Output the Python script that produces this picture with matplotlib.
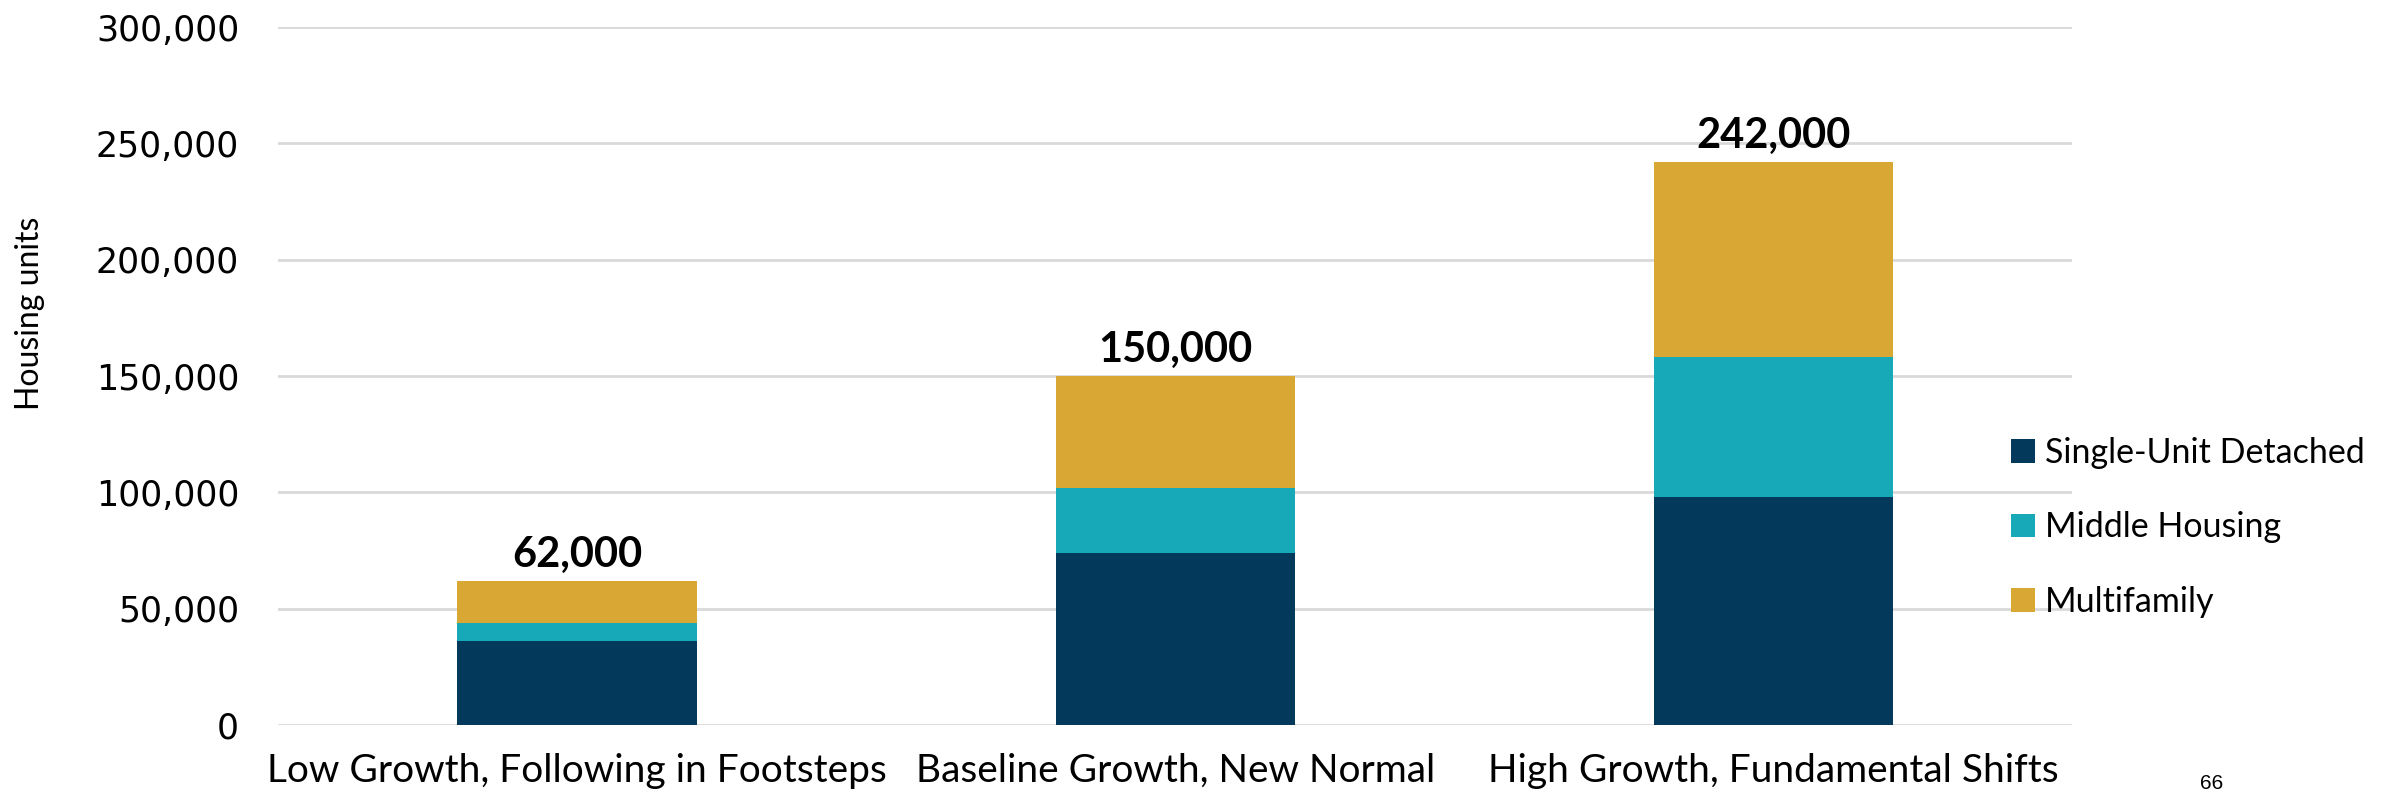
import matplotlib
matplotlib.use("Agg")
import matplotlib.pyplot as plt
from matplotlib.ticker import FuncFormatter

categories = ["Low Growth, Following in Footsteps", "Baseline Growth, New Normal", "High Growth, Fundamental Shifts"]
single_unit = [36000, 74000, 98000]
middle_housing = [8000, 28000, 60000]
multifamily = [18000, 48000, 84000]
totals = [62000, 150000, 242000]
series_names = ["Single-Unit Detached", "Middle Housing", "Multifamily"]
colors = ["#033A5C", "#18A9B8", "#D9A834"]

fig = plt.figure(figsize=(23.82, 7.98), dpi=100)
ax = fig.add_axes([0.1167, 0.0915, 0.7533, 0.8745])

x = list(range(len(categories)))
w = 0.40
b1 = ax.bar(x, single_unit, w, color=colors[0], label=series_names[0], zorder=3)
bottom2 = single_unit
b2 = ax.bar(x, middle_housing, w, bottom=bottom2, color=colors[1], label=series_names[1], zorder=3)
bottom3 = [a + b for a, b in zip(single_unit, middle_housing)]
b3 = ax.bar(x, multifamily, w, bottom=bottom3, color=colors[2], label=series_names[2], zorder=3)

for xi, t in zip(x, totals):
    ax.annotate(f"{t:,}", (xi, t), xytext=(0, 5), textcoords="offset points",
                ha="center", va="bottom", fontsize=30, fontweight="bold",
                family=["Lato", "DejaVu Sans"], color="black")

ax.set_xlim(-0.5, 2.5)
ax.set_ylim(0, 300000)
ax.set_yticks(range(0, 300001, 50000))
ax.yaxis.set_major_formatter(FuncFormatter(lambda v, p: f"{int(v):,}"))
ax.set_xticks(x)
ax.set_xticklabels(categories, family=["Lato", "DejaVu Sans"], fontsize=28)
for lbl in ax.get_yticklabels():
    lbl.set_fontsize(25)
    lbl.set_family("DejaVu Sans")
ax.tick_params(axis="y", length=0, pad=28)
ax.tick_params(axis="x", length=0, pad=20)
ax.grid(axis="y", color="#D9D9D9", linewidth=2, zorder=0)
for s in ax.spines.values():
    s.set_visible(False)

fig.text(0.0125, 0.607, "Housing units", rotation=90, ha="center", va="center",
         fontsize=23, family=["Lato", "DejaVu Sans"])

leg = fig.legend(handles=[b1, b2, b3], labels=series_names, loc="center left",
                 bbox_to_anchor=(0.8315, 0.339), bbox_transform=fig.transFigure,
                 frameon=False, handlelength=0.7, handleheight=0.7,
                 handletextpad=0.3, labelspacing=1.25,
                 prop={"family": ["Lato", "DejaVu Sans"], "size": 24.5})

fig.text(0.9285, 0.006, "66", fontsize=15, family=["Liberation Sans", "DejaVu Sans"],
         ha="center", va="bottom")

fig.savefig("out.png", dpi=100)
